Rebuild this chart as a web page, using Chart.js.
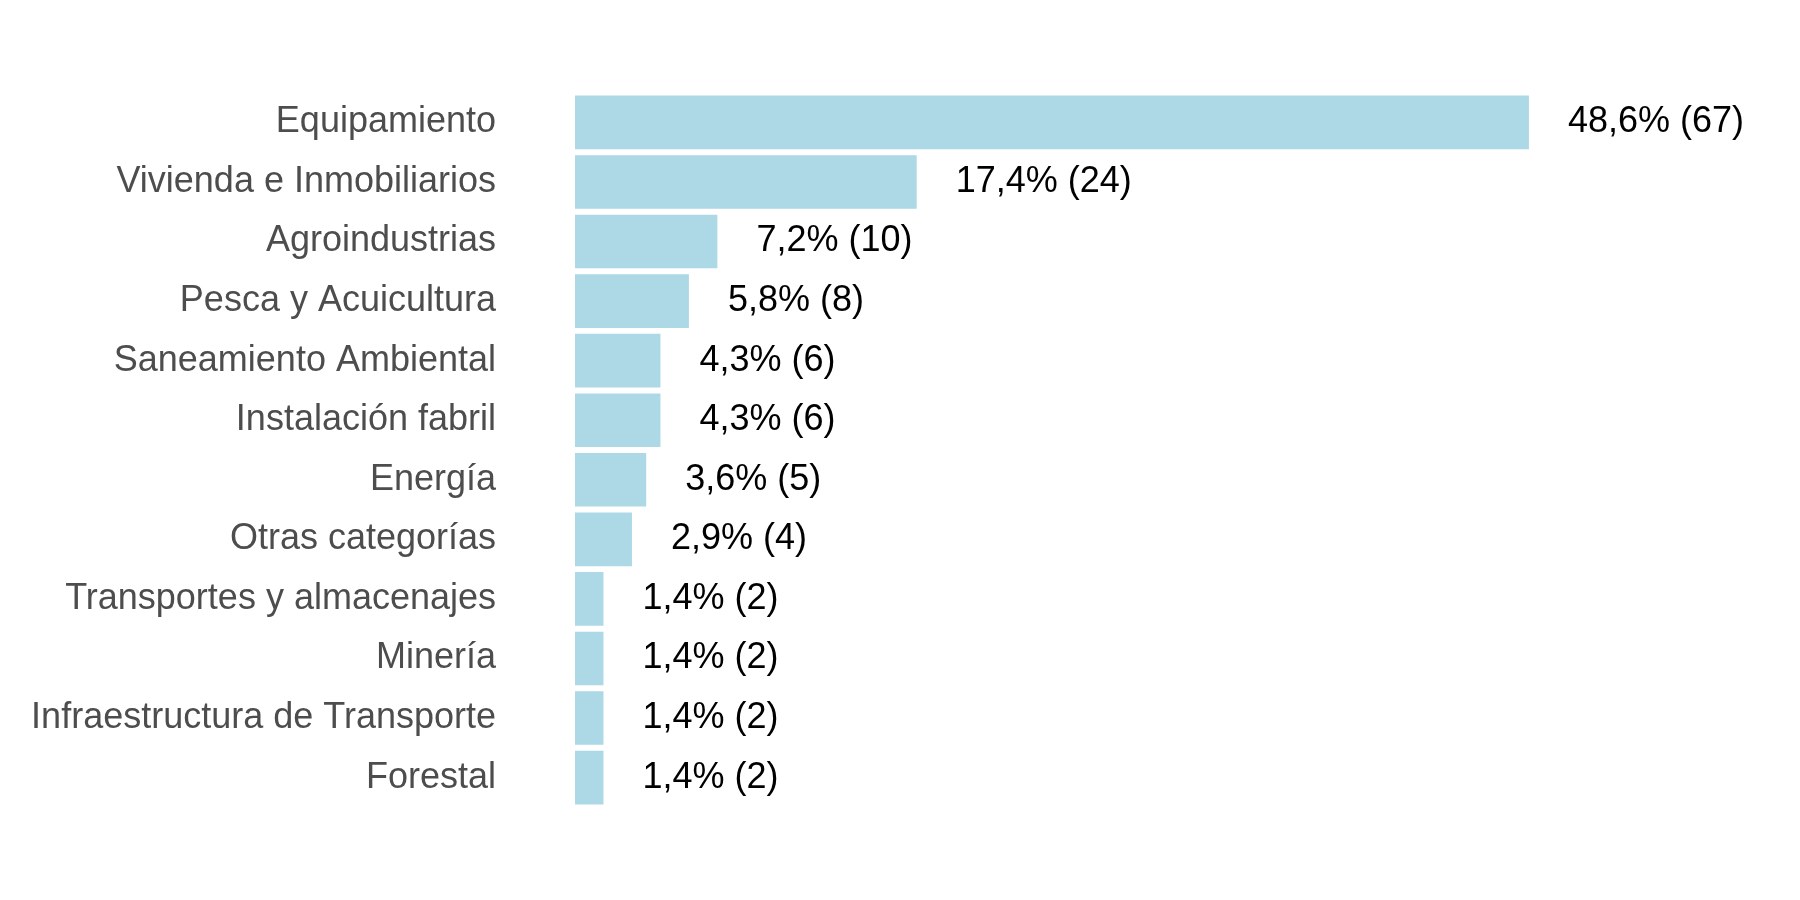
<!DOCTYPE html>
<html>
<head>
<meta charset="utf-8">
<script src="https://cdn.jsdelivr.net/npm/chart.js@4"></script>
<style>
  html, body { margin: 0; padding: 0; background: #fff; }
  canvas { display: block; }
</style>
</head>
<body>
<canvas id="chart" width="1800" height="900" style="width:1800px;height:900px"></canvas>
<script>
// Categories and counts
const categories = [
  "Equipamiento", "Vivienda e Inmobiliarios", "Agroindustrias", "Pesca y Acuicultura",
  "Saneamiento Ambiental", "Instalación fabril", "Energía", "Otras categorías",
  "Transportes y almacenajes", "Minería", "Infraestructura de Transporte", "Forestal"
];
const counts = [67, 24, 10, 8, 6, 6, 5, 4, 2, 2, 2, 2];
const percents = ["48,6", "17,4", "7,2", "5,8", "4,3", "4,3", "3,6", "2,9", "1,4", "1,4", "1,4", "1,4"];

const FONT = "'Liberation Sans', Arial, sans-serif";

// Draw "pct% (n)" to the right of every bar
const valueLabels = {
  id: "valueLabels",
  afterDatasetsDraw(chart) {
    const ctx = chart.ctx;
    const meta = chart.getDatasetMeta(0);
    ctx.save();
    ctx.font = "36px " + FONT;
    ctx.fillStyle = "#000";
    ctx.textBaseline = "middle";
    ctx.textAlign = "left";
    meta.data.forEach((bar, i) => {
      ctx.fillText(percents[i] + "% (" + counts[i] + ")", bar.x + 39, bar.y);
    });
    ctx.restore();
  }
};

new Chart(document.getElementById("chart"), {
  type: "bar",
  data: {
    labels: categories,
    datasets: [{
      data: counts,
      backgroundColor: "#add8e6",
      barPercentage: 0.9,
      categoryPercentage: 1.0
    }]
  },
  options: {
    indexAxis: "y",
    responsive: false,
    animation: false,
    devicePixelRatio: 1,
    layout: { padding: { left: 0, right: 86, top: 30, bottom: 44 } },
    plugins: { legend: { display: false }, tooltip: { enabled: false } },
    scales: {
      x: {
        min: 0, max: 80,
        display: false,
        grid: { display: false }
      },
      y: {
        grid: { display: false },
        border: { display: false },
        ticks: {
          color: "#4d4d4d",
          font: { family: FONT, size: 36 },
          padding: 71
        },
        afterFit(axis) { axis.width = 575; }
      }
    }
  },
  plugins: [valueLabels]
});
</script>
</body>
</html>
